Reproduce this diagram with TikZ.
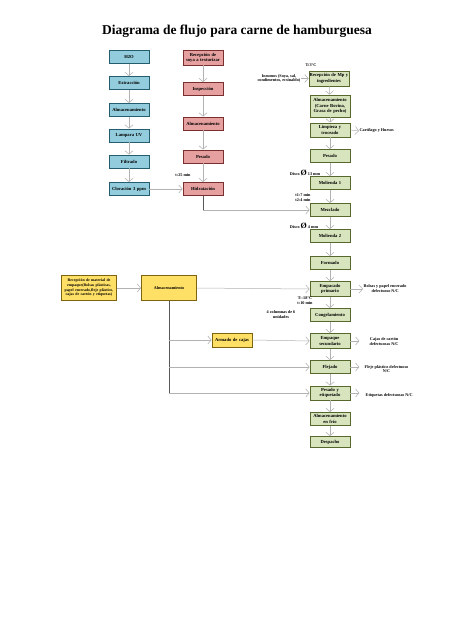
\documentclass[tikz,border=0pt]{standalone}
\usepackage{fontspec}
\setmainfont{Liberation Serif}
\usetikzlibrary{arrows.meta,shadows}

\definecolor{bluefill}{HTML}{93CDDD}
\definecolor{blueline}{HTML}{245E6E}
\definecolor{redfill}{HTML}{E6A0A0}
\definecolor{redline}{HTML}{7A2E2E}
\definecolor{greenfill}{HTML}{D7E4BD}
\definecolor{greenline}{HTML}{56682C}
\definecolor{yellowfill}{HTML}{FFE066}
\definecolor{yellowline}{HTML}{7F6410}

\newcommand\boxfont{\fontsize{4.6}{5.2}\selectfont\bfseries}
\newcommand\notefont{\fontsize{4.2}{4.9}\selectfont\bfseries}
\newcommand\disco[1]{Disco {\fontsize{8}{8}\selectfont Ø} #1}

\tikzset{
  box/.style={draw, line width=0.8pt, align=center, inner sep=0.5pt,
    text width=39pt, minimum height=13pt, font=\boxfont,
    drop shadow={shadow xshift=0.7pt, shadow yshift=-0.7pt, fill=black!45}},
  bluebox/.style={box, fill=bluefill, draw=blueline},
  redbox/.style={box, fill=redfill, draw=redline},
  greenbox/.style={box, fill=greenfill, draw=greenline},
  yellowbox/.style={box, fill=yellowfill, draw=yellowline},
  note/.style={font=\notefont, align=center, inner sep=0.5pt},
  flow/.style={draw=gray!60, line width=0.5pt,
    -{Straight Barb[length=3.5pt,width=8pt,line width=0.55pt]}},
  trunk/.style={draw=black!65, line width=0.9pt},
}

\begin{document}
\begin{tikzpicture}[x=1pt, y=-1pt]
	%%%%% START %%%%%
	\fill[white] (0,0) rectangle (474,632);
	\useasboundingbox (0,0) rectangle (474,632);

	\node[font=\fontsize{13.5}{16}\selectfont\bfseries] (title) at (237,31) {Diagrama de flujo para carne de hamburguesa};

	% agua
	\node[bluebox] (h2o) at (129,57) {H2O};
	\node[bluebox] (extr) at (129,83) {Extracción};
	\node[bluebox] (almb) at (129,110) {Almacenamiento};
	\node[bluebox] (uv) at (129,135.5) {Lampara UV};
	\node[bluebox] (filt) at (129,161.5) {Filtrado};
	\node[bluebox] (clor) at (129,189) {Cloración 3 ppm};

	% soya
	\node[redbox, minimum height=15pt] (soya) at (203,57.5) {Recepción de\\ soya a texturizar};
	\node[redbox] (insp) at (203,89) {Inspección};
	\node[redbox] (almr) at (203,123.5) {Almacenamiento};
	\node[redbox] (pesr) at (203,156.5) {Pesado};
	\node[redbox] (hidr) at (203,189) {Hidratación};
	\node[note] (thidr) at (183,175) {t:25 min};

	% carne
	\node[greenbox, minimum height=15pt] (recmp) at (329,78.5) {Recepción de Mp y\\ ingredientes};
	\node[greenbox, minimum height=22pt] (almg) at (330,106) {Almacenamiento\\ (Carne Bovina,\\ Grasa de pecho)};
	\node[greenbox, minimum height=14pt] (limp) at (330,130) {Limpieza y\\ troceado};
	\node[greenbox] (pesg) at (330,156) {Pesado};
	\node[greenbox] (mol1) at (330,183) {Molienda 1};
	\node[greenbox] (mezc) at (330,210) {Mezclado};
	\node[greenbox] (mol2) at (330,236) {Molienda 2};
	\node[greenbox] (form) at (330,263) {Formado};
	\node[greenbox, minimum height=15pt] (emp1) at (330,289) {Empacado\\ primario};
	\node[greenbox] (cong) at (330,315) {Congelamiento};
	\node[greenbox, minimum height=15pt] (emp2) at (330,341) {Empaque\\ secundario};
	\node[greenbox] (flej) at (330,367) {Flejado};
	\node[greenbox, minimum height=14pt] (etiq) at (330,393) {Pesado y\\ etiquetado};
	\node[greenbox] (frio) at (330,419) {Almacenamiento\\ en frío};
	\node[greenbox, minimum height=11pt] (desp) at (330,442) {Despacho};

	\node[note] (trec) at (311,65) {T:3°C};
	\node[note, anchor=east] (insum) at (301,78.5) {Insumos (Soya, sal,\\ condimentos, ecsinaldo)};
	\node[note, anchor=west] (cart) at (359,131) {Cartílago y Huesos};
	\node[note] (d13) at (305,173) {\disco{13 mm}};
	\node[note] (tmez) at (303,198) {t1:7 min\\ t2:4 min};
	\node[note] (d4) at (304,226) {\disco{4 mm}};
	\node[note, anchor=west] (bolsa) at (363,289) {Bolsas y papel encerado\\ defectuoso N/C};
	\node[note] (tcong) at (305,301) {T:-18°C\\ t:10 min};
	\node[note] (colum) at (281,315) {4 columnas de 6\\ unidades};
	\node[note, anchor=west] (cajas) at (369,342) {Cajas de cartón\\ defectuosas N/C};
	\node[note, anchor=west] (fleje) at (364,369) {Fleje plástico defectuoso\\ N/C};
	\node[note, anchor=west] (etdef) at (365,395) {Etiquetas defectuosas N/C};

	% empaques
	\node[yellowbox, text width=54pt, minimum height=25pt, font=\fontsize{3.9}{4.7}\selectfont\bfseries] (recemp) at (89,288) {Recepción de material de empaque(Bolsas plásticas, papel encerado,fleje plástico, cajas de cartón y etiquetas)};
	\node[yellowbox, text width=54pt, minimum height=25pt, font=\fontsize{4.2}{5}\selectfont\bfseries] (almy) at (169,288) {Almacenamiento};
	\node[yellowbox, minimum height=14pt] (arma) at (232,340) {Armado de cajas};

	% conectores
	\draw[flow] (h2o) -- (extr);
	\draw[flow] (extr) -- (almb);
	\draw[flow] (almb) -- (uv);
	\draw[flow] (uv) -- (filt);
	\draw[flow] (filt) -- (clor);
	\draw[flow] (clor) -- (hidr);

	\draw[flow] (soya) -- (insp);
	\draw[flow] (insp) -- (almr);
	\draw[flow] (almr) -- (pesr);
	\draw[flow] (pesr) -- (hidr);
	\draw[trunk] (hidr.south) -- (hidr.south |- mezc.west);
	\draw[flow] (hidr.south |- mezc.west) -- (mezc.west);

	\draw[flow] (insum.east) -- (recmp.west);
	\draw[flow] (recmp) -- (almg);
	\draw[flow] (almg) -- (limp);
	\draw[flow] (limp) -- (pesg);
	\draw[flow] (limp.east) -- (cart.west);
	\draw[flow] (pesg) -- (mol1);
	\draw[flow] (mol1) -- (mezc);
	\draw[flow] (mezc) -- (mol2);
	\draw[flow] (mol2) -- (form);
	\draw[flow] (form) -- (emp1);
	\draw[flow] (emp1) -- (cong);
	\draw[flow] (cong) -- (emp2);
	\draw[flow] (emp2) -- (flej);
	\draw[flow] (flej) -- (etiq);
	\draw[flow] (etiq) -- (frio);
	\draw[flow] (frio) -- (desp);

	\draw[flow] (emp1.east) -- (bolsa.west);
	\draw[flow] (emp2.east) -- ++(9,0);
	\draw[flow] (flej.east) -- ++(9,0);
	\draw[flow] (etiq.east) -- ++(9,0);

	\draw[flow] (recemp) -- (almy);
	\draw[flow] (almy.east) -- (emp1.west);
	\draw[trunk] (almy.south) -- (almy.south |- etiq.west);
	\draw[flow] (almy.south |- arma.west) -- (arma.west);
	\draw[flow] (arma.east) -- (emp2.west);
	\draw[flow] (almy.south |- flej.west) -- (flej.west);
	\draw[flow] (almy.south |- etiq.west) -- (etiq.west);
	%%%%% END %%%%%
\end{tikzpicture}
\end{document}
